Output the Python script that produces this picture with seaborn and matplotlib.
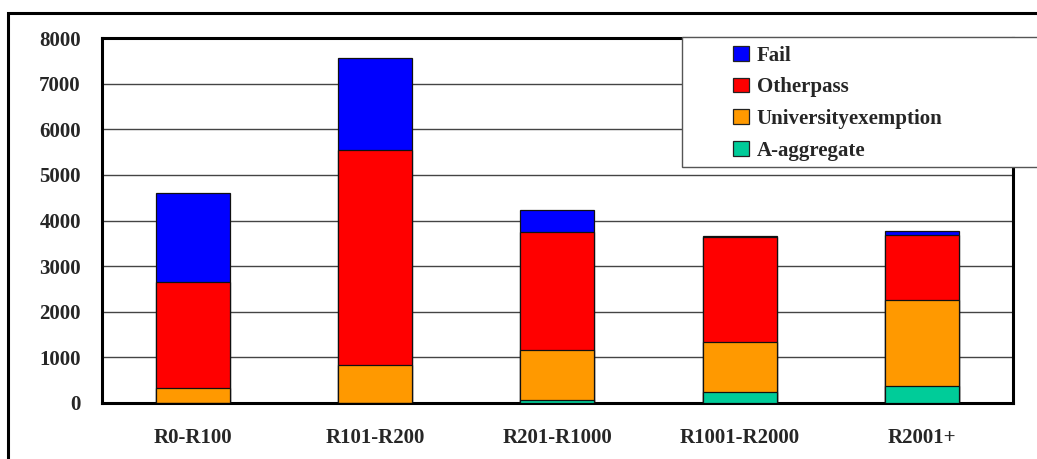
import numpy as np
import pandas as pd
import matplotlib
matplotlib.use("Agg")
import matplotlib.pyplot as plt
from matplotlib.patches import Rectangle, Patch
import seaborn as sns

categories = ["R0-R100", "R101-R200", "R201-R1000", "R1001-R2000", "R2001+"]
a_aggregate = [0, 0, 50, 240, 365]
university_exemption = [330, 830, 1110, 1085, 1880]
other_pass = [2325, 4710, 2590, 2305, 1445]
fail = [1955, 2020, 490, 30, 80]

series_names = ["A-aggregate", "Universityexemption", "Otherpass", "Fail"]
series_values = [a_aggregate, university_exemption, other_pass, fail]
series_colors = ["#00CC99", "#FF9900", "#FF0000", "#0000FF"]

sns.set_theme(style="white")
plt.rcParams["font.family"] = ["Liberation Serif", "DejaVu Serif"]
plt.rcParams["font.weight"] = "bold"

FS = 15
W, H = 1037, 459
fig = plt.figure(figsize=(W / 100, H / 100), dpi=100)
ax = fig.add_axes([101.7 / W, 1 - 402.7 / H, (1013 - 101.7) / W, (402.7 - 38.3) / H])

# stacked bars: draw cumulative totals, tallest first, so each layer shows
df = pd.DataFrame({"category": categories})
cum = np.cumsum(np.array(series_values), axis=0)
for i in range(len(series_names) - 1, -1, -1):
    df["total"] = cum[i]
    sns.barplot(data=df, x="category", y="total", color=series_colors[i],
                saturation=1, width=0.405, edgecolor="#111111", linewidth=0.9,
                ax=ax, zorder=3)

ax.set_ylim(0, 8000)
ax.set_xlim(-0.5, 4.5)
ax.set_yticks(range(0, 8001, 1000))
ax.yaxis.grid(True, color="#444444", linewidth=1.0, zorder=0)
ax.set_axisbelow(True)
ax.set_xlabel("")
ax.set_ylabel("")
ax.tick_params(axis="y", labelsize=FS, pad=15, length=0)
ax.tick_params(axis="x", labelsize=FS, pad=18, length=0)
for lab in ax.get_xticklabels() + ax.get_yticklabels():
    lab.set_fontweight("bold")
for side in ["left", "bottom", "top", "right"]:
    ax.spines[side].set_visible(True)
    ax.spines[side].set_color("black")
    ax.spines[side].set_linewidth(2.2)

# outer chart frame
fig.patches.append(Rectangle((8 / W, -0.2), 1.2, 1.2 - 13 / H,
                             transform=fig.transFigure, fill=False,
                             edgecolor="black", linewidth=2.2, zorder=0.5))

# legend box
fig.patches.append(Rectangle((682 / W, 1 - 167 / H), (1045 - 682) / W, 130 / H,
                             transform=fig.transFigure, facecolor="white",
                             edgecolor="#555555", linewidth=1.0, zorder=4))

handles = [Patch(facecolor=series_colors[i], edgecolor="#222222", linewidth=0.9,
                 label=series_names[i]) for i in range(len(series_names) - 1, -1, -1)]
fig.legend(handles=handles, loc="upper left", bbox_to_anchor=(718 / W, 1 - 31 / H),
           frameon=False, prop={"weight": "bold", "size": FS},
           handlelength=0.8, handleheight=0.7, handletextpad=0.35,
           labelspacing=0.56, borderpad=0.2)

fig.savefig("out.png", dpi=100)
